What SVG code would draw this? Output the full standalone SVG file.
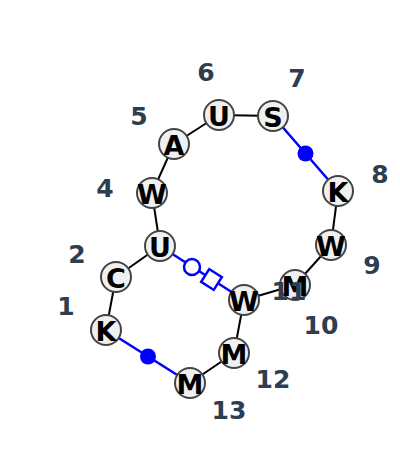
<svg xmlns="http://www.w3.org/2000/svg" width="400" height="455" viewBox="0 0 400 455">
<style>
.e{stroke:#000;stroke-width:2;fill:none}
.b{stroke:#0000ff;stroke-width:2.5;fill:none}
.n circle{fill:#f0f0f0;stroke:#444;stroke-width:2}
.n text{font-family:"DejaVu Sans",sans-serif;font-weight:bold;font-size:27px;fill:#000;text-anchor:middle;dominant-baseline:central}
.l{font-family:"DejaVu Sans",sans-serif;font-weight:bold;font-size:25px;fill:#2c3e50;text-anchor:middle;dominant-baseline:central}
</style>
<rect width="400" height="455" fill="#fff"/>
<g id="connectors">
<line class="e" x1="106" y1="330" x2="116" y2="277"/>
<line class="e" x1="116" y1="277" x2="160" y2="246"/>
<line class="e" x1="160" y1="246" x2="152" y2="193"/>
<line class="e" x1="152" y1="193" x2="174" y2="144"/>
<line class="e" x1="174" y1="144" x2="219" y2="115"/>
<line class="e" x1="219" y1="115" x2="273" y2="116"/>
<line class="e" x1="338" y1="191" x2="331" y2="245"/>
<line class="e" x1="331" y1="245" x2="295" y2="285"/>
<line class="e" x1="295" y1="285" x2="244" y2="300"/>
<line class="e" x1="244" y1="300" x2="234" y2="353"/>
<line class="e" x1="234" y1="353" x2="190" y2="383"/>
<line class="b" x1="273" y1="116" x2="338" y2="191"/>
<circle cx="305.5" cy="153.5" r="8" fill="#0000ff"/>
<line class="b" x1="106" y1="330" x2="190" y2="383"/>
<circle cx="148" cy="356.5" r="8" fill="#0000ff"/>
<line class="b" x1="160" y1="246" x2="244" y2="300"/>
<circle cx="192" cy="267" r="8" fill="#fff" stroke="#0000ff" stroke-width="2.5"/>
<rect x="-7.5" y="-7.5" width="15" height="15" fill="#fff" stroke="#0000ff" stroke-width="2.5" transform="translate(211.5 279.5) rotate(32.7)"/>
</g>
<g id="n1" class="n"><circle cx="106" cy="330" r="15"/><text x="106" y="331">K</text></g>
<g id="n2" class="n"><circle cx="116" cy="277" r="15"/><text x="116" y="278">C</text></g>
<g id="n3" class="n"><circle cx="160" cy="246" r="15"/><text x="160" y="247">U</text></g>
<g id="n4" class="n"><circle cx="152" cy="193" r="15"/><text x="152" y="194">W</text></g>
<g id="n5" class="n"><circle cx="174" cy="144" r="15"/><text x="174" y="145">A</text></g>
<g id="n6" class="n"><circle cx="219" cy="115" r="15"/><text x="219" y="116">U</text></g>
<g id="n7" class="n"><circle cx="273" cy="116" r="15"/><text x="273" y="117">S</text></g>
<g id="n8" class="n"><circle cx="338" cy="191" r="15"/><text x="338" y="192">K</text></g>
<g id="n9" class="n"><circle cx="331" cy="245" r="15"/><text x="331" y="246">W</text></g>
<g id="n10" class="n"><circle cx="295" cy="285" r="15"/><text x="295" y="286">M</text></g>
<g id="n11" class="n"><circle cx="244" cy="300" r="15"/><text x="244" y="301">W</text></g>
<g id="n12" class="n"><circle cx="234" cy="353" r="15"/><text x="234" y="354">M</text></g>
<g id="n13" class="n"><circle cx="190" cy="383" r="15"/><text x="190" y="384">M</text></g>
<g id="labels">
<text class="l" x="66" y="306">1</text>
<text class="l" x="77" y="254">2</text>
<text class="l" x="105" y="188">4</text>
<text class="l" x="139" y="116">5</text>
<text class="l" x="206" y="72">6</text>
<text class="l" x="297" y="78">7</text>
<text class="l" x="380" y="174">8</text>
<text class="l" x="372" y="265">9</text>
<text class="l" x="321" y="325">10</text>
<text class="l" x="289" y="291">11</text>
<text class="l" x="273" y="379">12</text>
<text class="l" x="229" y="410">13</text>
</g>
</svg>
